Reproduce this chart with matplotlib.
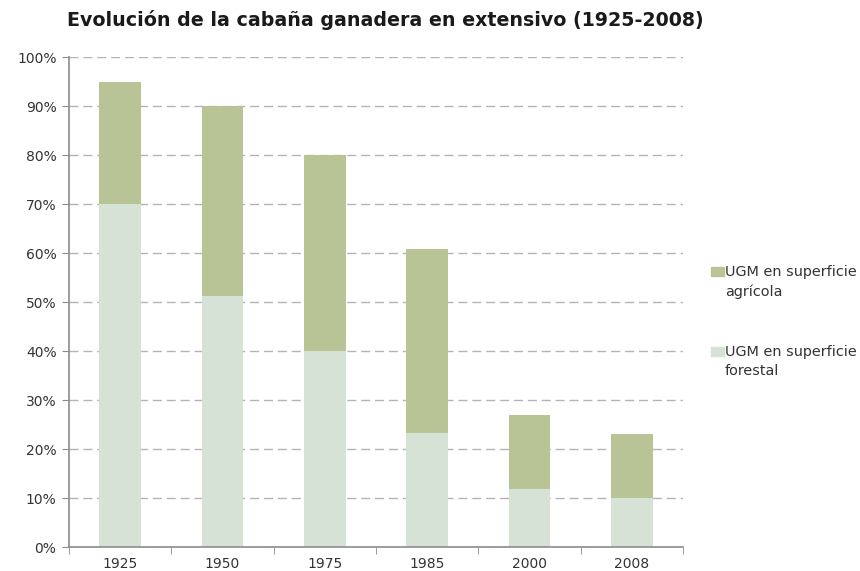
import matplotlib
matplotlib.use("Agg")
import matplotlib.pyplot as plt
from matplotlib.patches import Rectangle
import numpy as np

# data (% of 1925-style index)
years = ["1925", "1950", "1975", "1985", "2000", "2008"]
forestal = [70, 51.2, 40, 23.3, 11.8, 10.0]
agricola = [25, 38.8, 40, 37.5, 15.1, 13.1]
yticks = [0, 10, 20, 30, 40, 50, 60, 70, 80, 90, 100]
leg_labels = ["UGM en superficie\nagrícola", "UGM en superficie\nforestal"]

col_agr = "#b8c496"
col_for = "#d6e2d6"
grey = "#8c8c8c"

plt.rcParams['font.family'] = ['DejaVu Sans']

fig = plt.figure(figsize=(8.6, 5.71), dpi=100)
ax = fig.add_axes([0.0802, 0.042, 0.714, 0.858])

x = np.arange(len(years))
w = 0.41
ax.bar(x, forestal, w, color=col_for, zorder=2)
ax.bar(x, agricola, w, bottom=forestal, color=col_agr, zorder=2)

ax.set_xlim(-0.5, len(years) - 0.5)
ax.set_ylim(0, 100)
ax.set_yticks(yticks)
ax.set_yticklabels([f"{v}%" for v in yticks], fontsize=10, color="#333333")
ax.set_xticks(x)
ax.set_xticklabels(years, fontsize=10, color="#333333")
ax.tick_params(axis="x", length=0, pad=7)
ax.set_xticks(np.arange(-0.5, len(years)), minor=True)
ax.tick_params(axis="x", which="minor", length=5, color=grey)
ax.tick_params(axis="y", length=5, color=grey, pad=4)

ax.yaxis.grid(True, linestyle=(0, (6.5, 3.5)), color="#b4b4b4", linewidth=1, zorder=0)
for s in ["top", "right"]:
    ax.spines[s].set_visible(False)
for s in ["left", "bottom"]:
    ax.spines[s].set_color(grey)
    ax.spines[s].set_linewidth(1.2)

# legend drawn by hand: square sits next to the first line of each label
for i, (lab, c) in enumerate(zip(leg_labels, [col_agr, col_for])):
    top = 265 + i * 80
    fig.patches.append(Rectangle((711 / 860, (571 - top - 11) / 571), 13 / 860, 9 / 571,
                                 transform=fig.transFigure, color=c))
    fig.text(725 / 860, (571 - top) / 571, lab, fontsize=10.4, color="#333333",
             va="top", ha="left", linespacing=1.45)

fig.text(0.078, 0.965, "Evolución de la cabaña ganadera en extensivo (1925-2008)",
         fontsize=13.7, fontweight="bold", color="#1a1a1a", va="center")

fig.savefig("out.png", dpi=100)
